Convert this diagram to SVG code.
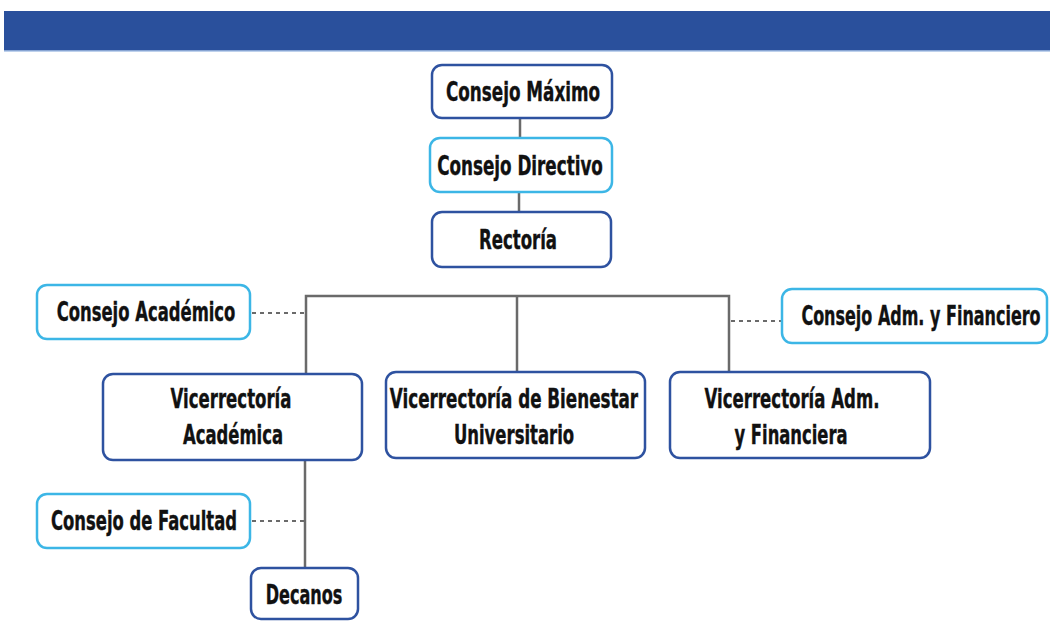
<svg xmlns="http://www.w3.org/2000/svg" width="1050" height="621" viewBox="0 0 1050 621">
<style>
.box{fill:#fff;stroke-width:2.5}
.dk{stroke:#2e52a0}
.lt{stroke:#3cb6e6}
.t{font-family:"DejaVu Sans Condensed","DejaVu Sans",sans-serif;font-weight:bold;font-size:27px;fill:#111;stroke:#111;stroke-width:0.4;text-anchor:middle}
.ln{stroke:#6a6a6a;stroke-width:2.5;fill:none}
.ds{stroke:#6a6a6a;stroke-width:2;stroke-dasharray:4 4;fill:none}
</style>
<rect x="4" y="11" width="1046" height="40" fill="#2a509c"/>
<line x1="4" y1="51" x2="1050" y2="51" stroke="#a9c2e6" stroke-width="1.5"/>
<g id="connectors">
<line class="ln" x1="520" y1="118" x2="520" y2="138"/>
<line class="ln" x1="519" y1="192" x2="519" y2="212"/>
<polyline class="ln" points="306,375 306,296 729,296 729,372"/>
<line class="ln" x1="517" y1="296" x2="517" y2="372"/>
<line class="ds" x1="252" y1="313" x2="305" y2="313"/>
<line class="ds" x1="731" y1="321" x2="782" y2="321"/>
<line class="ln" x1="305" y1="460" x2="305" y2="568"/>
<line class="ds" x1="252" y1="521" x2="305" y2="521"/>
</g>
<g id="consejo-maximo">
<rect class="box dk" x="432" y="65" width="180" height="53" rx="10"/>
<text class="t" transform="translate(523 101) scale(.65 1)" textLength="237" lengthAdjust="spacingAndGlyphs">Consejo Máximo</text>
</g>
<g id="consejo-directivo">
<rect class="box lt" x="430" y="138" width="182" height="54" rx="10"/>
<text class="t" transform="translate(520 175) scale(.65 1)" textLength="255" lengthAdjust="spacingAndGlyphs">Consejo Directivo</text>
</g>
<g id="rectoria">
<rect class="box dk" x="432" y="212" width="179" height="55" rx="10"/>
<text class="t" transform="translate(518 249) scale(.65 1)" textLength="120" lengthAdjust="spacingAndGlyphs">Rectoría</text>
</g>
<g id="consejo-academico">
<rect class="box lt" x="37" y="285" width="213" height="54" rx="10"/>
<text class="t" transform="translate(146 321) scale(.65 1)" textLength="275" lengthAdjust="spacingAndGlyphs">Consejo Académico</text>
</g>
<g id="consejo-adm">
<rect class="box lt" x="782" y="289" width="265" height="54" rx="10"/>
<text class="t" transform="translate(921 325) scale(.65 1)" textLength="368" lengthAdjust="spacingAndGlyphs">Consejo Adm. y Financiero</text>
</g>
<g id="vic-academica">
<rect class="box dk" x="103" y="374" width="259" height="86" rx="10"/>
<text class="t" transform="translate(231 408) scale(.65 1)" textLength="186" lengthAdjust="spacingAndGlyphs">Vicerrectoría</text>
<text class="t" transform="translate(233 444) scale(.65 1)" textLength="154" lengthAdjust="spacingAndGlyphs">Académica</text>
</g>
<g id="vic-bienestar">
<rect class="box dk" x="386" y="372" width="259" height="86" rx="10"/>
<text class="t" transform="translate(514 408) scale(.65 1)" textLength="382" lengthAdjust="spacingAndGlyphs">Vicerrectoría de Bienestar</text>
<text class="t" transform="translate(514 444) scale(.65 1)" textLength="185" lengthAdjust="spacingAndGlyphs">Universitario</text>
</g>
<g id="vic-adm">
<rect class="box dk" x="670" y="372" width="260" height="86" rx="10"/>
<text class="t" transform="translate(792 408) scale(.65 1)" textLength="269" lengthAdjust="spacingAndGlyphs">Vicerrectoría Adm.</text>
<text class="t" transform="translate(791 444) scale(.65 1)" textLength="174" lengthAdjust="spacingAndGlyphs">y Financiera</text>
</g>
<g id="consejo-facultad">
<rect class="box lt" x="37" y="494" width="213" height="54" rx="10"/>
<text class="t" transform="translate(144 530) scale(.65 1)" textLength="286" lengthAdjust="spacingAndGlyphs">Consejo de Facultad</text>
</g>
<g id="decanos">
<rect class="box dk" x="251" y="568" width="107" height="51" rx="10"/>
<text class="t" transform="translate(304 604) scale(.65 1)" textLength="118" lengthAdjust="spacingAndGlyphs">Decanos</text>
</g>
</svg>
